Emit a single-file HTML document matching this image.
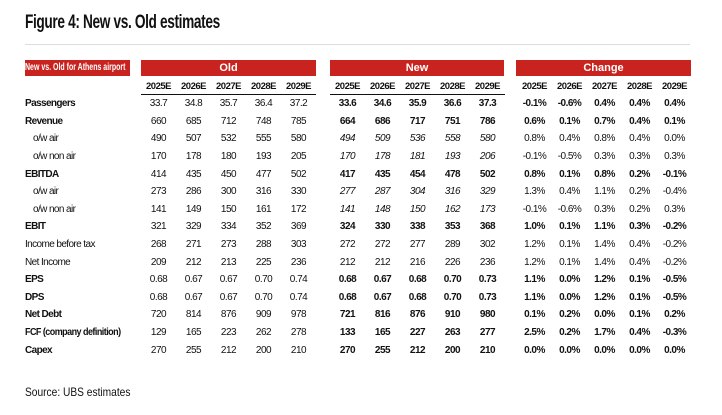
<!DOCTYPE html>
<html><head><meta charset="utf-8"><style>
body{margin:0;width:722px;height:415px;background:#fff;position:relative;font-family:"Liberation Sans",sans-serif;color:#111;overflow:hidden}
.t{position:absolute;left:25px;top:12px;font-size:19px;font-weight:bold;letter-spacing:-0.5px;transform:scaleX(.72);transform-origin:left;white-space:nowrap}
.hl{position:absolute;left:25px;top:44px;width:665px;height:1px;background:#ddd}
.bar{position:absolute;top:60px;height:16px;background:#c8231f;color:#fff;font-weight:bold;font-size:11px;text-align:center;line-height:16px;white-space:nowrap;overflow:hidden}
.bar span{display:inline-block;transform-origin:left}
table{position:absolute;left:25px;top:78px;border-collapse:collapse;font-size:10px;letter-spacing:-0.5px;table-layout:fixed;width:667px}
td{height:17.6px;padding:0;text-align:center;white-space:nowrap;overflow:visible}
col.l{width:116px}col.c{width:35px}col.g1{width:14px}col.g2{width:12px}
td.l{text-align:left;letter-spacing:-0.6px}
tr.h td{height:16px;font-weight:bold;font-size:9.5px}
tr.h td.u{border-bottom:1.5px solid #111}
tr.b td.l,tr.b td.n,tr.b td.k{font-weight:bold}
tr.s td.l{padding-left:8px}
tr.s td.n{font-style:italic}
.src{position:absolute;left:25px;top:385px;font-size:12px;transform:scaleX(.85);transform-origin:left;white-space:nowrap}
</style></head><body>
<div class="t">Figure 4: New vs. Old estimates</div>
<div class="hl"></div>
<div class="bar" style="left:25px;width:105px;font-size:10px;text-align:left"><span style="transform:scaleX(.7)">New vs. Old for Athens airport</span></div>
<div class="bar" style="left:141px;width:175px">Old</div>
<div class="bar" style="left:330px;width:174px">New</div>
<div class="bar" style="left:516px;width:175px">Change</div>
<table>
<colgroup><col class="l"><col class="c"><col class="c"><col class="c"><col class="c"><col class="c"><col class="g1"><col class="c"><col class="c"><col class="c"><col class="c"><col class="c"><col class="g2"><col class="c"><col class="c"><col class="c"><col class="c"><col class="c"></colgroup>
<tr class="h"><td class="l"></td><td class="u">2025E</td><td class="u">2026E</td><td class="u">2027E</td><td class="u">2028E</td><td class="u">2029E</td><td></td><td class="u">2025E</td><td class="u">2026E</td><td class="u">2027E</td><td class="u">2028E</td><td class="u">2029E</td><td></td><td>2025E</td><td>2026E</td><td>2027E</td><td>2028E</td><td>2029E</td></tr>
<tr class="b"><td class="l">Passengers</td><td>33.7</td><td>34.8</td><td>35.7</td><td>36.4</td><td>37.2</td><td></td><td class="n">33.6</td><td class="n">34.6</td><td class="n">35.9</td><td class="n">36.6</td><td class="n">37.3</td><td></td><td class="k">-0.1%</td><td class="k">-0.6%</td><td class="k">0.4%</td><td class="k">0.4%</td><td class="k">0.4%</td></tr>
<tr class="b"><td class="l">Revenue</td><td>660</td><td>685</td><td>712</td><td>748</td><td>785</td><td></td><td class="n">664</td><td class="n">686</td><td class="n">717</td><td class="n">751</td><td class="n">786</td><td></td><td class="k">0.6%</td><td class="k">0.1%</td><td class="k">0.7%</td><td class="k">0.4%</td><td class="k">0.1%</td></tr>
<tr class="s"><td class="l">o/w air</td><td>490</td><td>507</td><td>532</td><td>555</td><td>580</td><td></td><td class="n">494</td><td class="n">509</td><td class="n">536</td><td class="n">558</td><td class="n">580</td><td></td><td>0.8%</td><td>0.4%</td><td>0.8%</td><td>0.4%</td><td>0.0%</td></tr>
<tr class="s"><td class="l">o/w non air</td><td>170</td><td>178</td><td>180</td><td>193</td><td>205</td><td></td><td class="n">170</td><td class="n">178</td><td class="n">181</td><td class="n">193</td><td class="n">206</td><td></td><td>-0.1%</td><td>-0.5%</td><td>0.3%</td><td>0.3%</td><td>0.3%</td></tr>
<tr class="b"><td class="l">EBITDA</td><td>414</td><td>435</td><td>450</td><td>477</td><td>502</td><td></td><td class="n">417</td><td class="n">435</td><td class="n">454</td><td class="n">478</td><td class="n">502</td><td></td><td class="k">0.8%</td><td class="k">0.1%</td><td class="k">0.8%</td><td class="k">0.2%</td><td class="k">-0.1%</td></tr>
<tr class="s"><td class="l">o/w air</td><td>273</td><td>286</td><td>300</td><td>316</td><td>330</td><td></td><td class="n">277</td><td class="n">287</td><td class="n">304</td><td class="n">316</td><td class="n">329</td><td></td><td>1.3%</td><td>0.4%</td><td>1.1%</td><td>0.2%</td><td>-0.4%</td></tr>
<tr class="s"><td class="l">o/w non air</td><td>141</td><td>149</td><td>150</td><td>161</td><td>172</td><td></td><td class="n">141</td><td class="n">148</td><td class="n">150</td><td class="n">162</td><td class="n">173</td><td></td><td>-0.1%</td><td>-0.6%</td><td>0.3%</td><td>0.2%</td><td>0.3%</td></tr>
<tr class="b"><td class="l">EBIT</td><td>321</td><td>329</td><td>334</td><td>352</td><td>369</td><td></td><td class="n">324</td><td class="n">330</td><td class="n">338</td><td class="n">353</td><td class="n">368</td><td></td><td class="k">1.0%</td><td class="k">0.1%</td><td class="k">1.1%</td><td class="k">0.3%</td><td class="k">-0.2%</td></tr>
<tr><td class="l">Income before tax</td><td>268</td><td>271</td><td>273</td><td>288</td><td>303</td><td></td><td>272</td><td>272</td><td>277</td><td>289</td><td>302</td><td></td><td>1.2%</td><td>0.1%</td><td>1.4%</td><td>0.4%</td><td>-0.2%</td></tr>
<tr><td class="l">Net Income</td><td>209</td><td>212</td><td>213</td><td>225</td><td>236</td><td></td><td>212</td><td>212</td><td>216</td><td>226</td><td>236</td><td></td><td>1.2%</td><td>0.1%</td><td>1.4%</td><td>0.4%</td><td>-0.2%</td></tr>
<tr class="b"><td class="l">EPS</td><td>0.68</td><td>0.67</td><td>0.67</td><td>0.70</td><td>0.74</td><td></td><td class="n">0.68</td><td class="n">0.67</td><td class="n">0.68</td><td class="n">0.70</td><td class="n">0.73</td><td></td><td class="k">1.1%</td><td class="k">0.0%</td><td class="k">1.2%</td><td class="k">0.1%</td><td class="k">-0.5%</td></tr>
<tr class="b"><td class="l">DPS</td><td>0.68</td><td>0.67</td><td>0.67</td><td>0.70</td><td>0.74</td><td></td><td class="n">0.68</td><td class="n">0.67</td><td class="n">0.68</td><td class="n">0.70</td><td class="n">0.73</td><td></td><td class="k">1.1%</td><td class="k">0.0%</td><td class="k">1.2%</td><td class="k">0.1%</td><td class="k">-0.5%</td></tr>
<tr class="b"><td class="l">Net Debt</td><td>720</td><td>814</td><td>876</td><td>909</td><td>978</td><td></td><td class="n">721</td><td class="n">816</td><td class="n">876</td><td class="n">910</td><td class="n">980</td><td></td><td class="k">0.1%</td><td class="k">0.2%</td><td class="k">0.0%</td><td class="k">0.1%</td><td class="k">0.2%</td></tr>
<tr class="b"><td class="l"><span style="display:inline-block;transform:scaleX(.9);transform-origin:left">FCF (company definition)</span></td><td>129</td><td>165</td><td>223</td><td>262</td><td>278</td><td></td><td class="n">133</td><td class="n">165</td><td class="n">227</td><td class="n">263</td><td class="n">277</td><td></td><td class="k">2.5%</td><td class="k">0.2%</td><td class="k">1.7%</td><td class="k">0.4%</td><td class="k">-0.3%</td></tr>
<tr class="b"><td class="l">Capex</td><td>270</td><td>255</td><td>212</td><td>200</td><td>210</td><td></td><td class="n">270</td><td class="n">255</td><td class="n">212</td><td class="n">200</td><td class="n">210</td><td></td><td class="k">0.0%</td><td class="k">0.0%</td><td class="k">0.0%</td><td class="k">0.0%</td><td class="k">0.0%</td></tr>
</table>
<div class="src">Source: UBS estimates</div>
</body></html>
